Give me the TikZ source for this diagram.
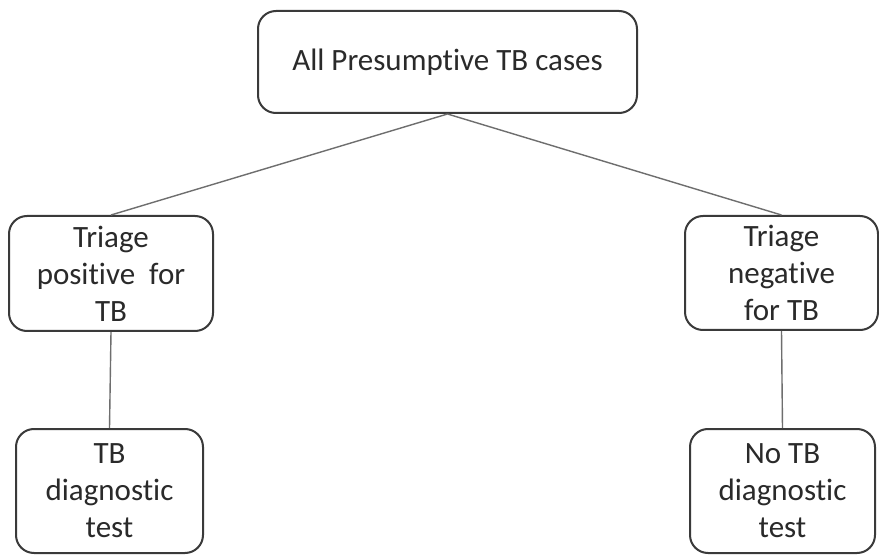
\documentclass[tikz,border=0pt]{standalone}
\usepackage{fontspec}
\setmainfont[Ligatures=NoCommon]{Carlito}
\definecolor{boxline}{HTML}{3A3A3A}
\definecolor{conn}{HTML}{6E6E6E}
\definecolor{txt}{HTML}{2A2A2A}
\begin{document}
\begin{tikzpicture}[x=1pt,y=-1pt,
  box/.style={draw=boxline, line width=2pt, rounded corners=18pt, align=center,
    inner sep=0pt, text=txt, font=\fontsize{31}{37}\selectfont},
  link/.style={draw=conn, line width=1.4pt}]
\useasboundingbox[fill=white] (0,0) rectangle (879,556);
\node[box, minimum width=379pt, minimum height=102pt] (top) at (447.5,62) {All Presumptive TB cases};
\node[box, minimum width=204pt, minimum height=115pt] (lm) at (111,273.5) {Triage\\positive\ \ for\\TB};
\node[box, minimum width=193pt, minimum height=114pt] (rm) at (781.5,273) {Triage\\negative\\for TB};
\node[box, minimum width=187pt, minimum height=124pt] (bl) at (109.5,491) {TB\\diagnostic\\test};
\node[box, minimum width=185pt, minimum height=124pt] (br) at (782.5,491) {No TB\\diagnostic\\test};
\draw[link] (top.south) -- (lm.north);
\draw[link] (top.south) -- (rm.north);
\draw[link] (lm.south) -- (bl.north);
\draw[link] (rm.south) -- (br.north);
\end{tikzpicture}
\end{document}
